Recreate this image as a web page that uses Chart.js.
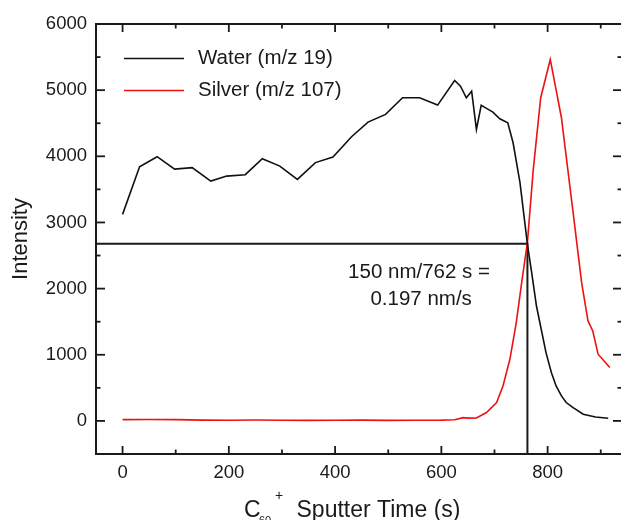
<!DOCTYPE html>
<html><head><meta charset="utf-8">
<script src="https://cdn.jsdelivr.net/npm/chart.js@4.4.1/dist/chart.umd.min.js"></script>
<style>
html,body{margin:0;padding:0;overflow:hidden;background:#fff;width:621px;height:520px}
#wrap{width:630px;height:520px}
</style></head>
<body><div id="wrap"><canvas id="c" width="630" height="520" style="width:630px;height:520px"></canvas></div>
<script>
// ---- data ----
const waterLabel = "Water (m/z 19)";
const waterTime = [0, 32, 65, 98, 131, 166, 196, 231, 263, 296, 329, 363, 396, 431, 462, 495, 527, 559, 593, 625, 636, 647, 657, 666, 675, 685, 697, 710, 725, 735, 748, 762, 770, 779, 797, 807, 816, 826, 835, 848, 867, 890, 914];
const waterIntensity = [3122, 3843, 3994, 3807, 3828, 3625, 3701, 3722, 3963, 3852, 3651, 3905, 3988, 4296, 4517, 4633, 4885, 4885, 4774, 5147, 5060, 4885, 4985, 4406, 4770, 4724, 4668, 4568, 4508, 4205, 3601, 2669, 2240, 1737, 1033, 731, 529, 378, 278, 200, 101, 60, 41];

const silverLabel = "Silver (m/z 107)";
const silverTime = [0, 50, 100, 150, 200, 250, 300, 350, 400, 450, 500, 550, 600, 625, 641, 650, 666, 685, 704, 716, 729, 741, 752, 762, 773, 787, 805, 826, 848, 864, 876, 885, 895, 917];
const silverIntensity = [20, 22, 20, 12, 10, 14, 10, 8, 10, 12, 8, 10, 12, 18, 50, 42, 45, 127, 278, 529, 932, 1486, 2140, 2700, 3802, 4885, 5464, 4583, 3148, 2091, 1511, 1360, 1008, 807];

// guide lines marking the interface at 762 s
const guideTime = [-50, 762, 762];
const guideIntensity = [2680, 2680, -500];

const annotationLines = ["150 nm/762 s =", "0.197 nm/s"];
const annotationTime = [558, 562];
const annotationIntensity = [2246, 1838];

// tick positions (all ticks) and which ones carry labels
const xTickValues = [0, 100, 200, 300, 400, 500, 600, 700, 800, 900];
const xLabelStep = 200;
const yTickValues = [-500, 0, 500, 1000, 1500, 2000, 2500, 3000, 3500, 4000, 4500, 5000, 5500, 6000];
const yLabelStep = 1000;

const FONT = "'Liberation Sans', Arial, Helvetica, sans-serif";
const INK = '#1a1a1a';
const toXY = (xs, ys) => xs.map((x, i) => ({x: x, y: ys[i]}));

const decor = {
  id: 'decor',
  afterDraw(chart) {
    const ctx = chart.ctx, a = chart.chartArea;
    const xs = chart.scales.x, ys = chart.scales.y;
    ctx.save();
    ctx.strokeStyle = INK;
    ctx.lineCap = 'butt';
    ctx.lineWidth = 2;
    ctx.strokeRect(a.left, a.top, a.right - a.left, a.bottom - a.top);
    ctx.lineWidth = 1.8;
    const seg = (x1, y1, x2, y2) => { ctx.beginPath(); ctx.moveTo(x1, y1); ctx.lineTo(x2, y2); ctx.stroke(); };
    xs.ticks.forEach(t => {
      const p = xs.getPixelForValue(t.value);
      if (p <= a.left + 1 || p >= a.right - 1) return;
      const L = (t.value % xLabelStep === 0) ? 8 : 4.5;
      seg(p, a.bottom, p, a.bottom - L);
      seg(p, a.top, p, a.top + L);
    });
    ys.ticks.forEach(t => {
      const p = ys.getPixelForValue(t.value);
      if (p <= a.top + 1 || p >= a.bottom - 1) return;
      const L = (t.value % yLabelStep === 0) ? 9 : 4.5;
      seg(a.left, p, a.left + L, p);
      seg(a.right, p, a.right - L, p);
    });
    const ds = chart.data.datasets.filter(d => d.label);
    ctx.font = "20.5px " + FONT;
    ctx.textBaseline = 'middle';
    ctx.textAlign = 'left';
    ds.forEach((d, i) => {
      const y = a.top + 34.5 + i * 32;
      ctx.strokeStyle = d.borderColor;
      ctx.lineWidth = 1.6;
      seg(a.left + 28, y, a.left + 88, y);
      ctx.fillStyle = INK;
      ctx.fillText(d.label, a.left + 102, y);
    });
    ctx.textAlign = 'center';
    ctx.fillStyle = INK;
    annotationLines.forEach((s, i) => {
      ctx.fillText(s, xs.getPixelForValue(annotationTime[i]), ys.getPixelForValue(annotationIntensity[i]));
    });
    ctx.textAlign = 'left';
    ctx.textBaseline = 'alphabetic';
    ctx.font = "23px " + FONT;
    ctx.fillText("C", 244, 517);
    ctx.font = "11px " + FONT;
    ctx.fillText("60", 259, 524);
    ctx.font = "14px " + FONT;
    ctx.fillText("+", 275, 500);
    ctx.font = "23px " + FONT;
    ctx.fillText("Sputter Time (s)", 296.5, 517);
    ctx.restore();
  }
};

new Chart(document.getElementById('c'), {
  type: 'line',
  data: {
    datasets: [
      {label: waterLabel, data: toXY(waterTime, waterIntensity), borderColor: '#111111', borderWidth: 1.6, pointRadius: 0, tension: 0, fill: false},
      {label: silverLabel, data: toXY(silverTime, silverIntensity), borderColor: '#ee1111', borderWidth: 1.6, pointRadius: 0, tension: 0, fill: false},
      {label: '', data: toXY(guideTime, guideIntensity), borderColor: INK, borderWidth: 2, pointRadius: 0, tension: 0, fill: false}
    ]
  },
  options: {
    responsive: false,
    animation: false,
    events: [],
    layout: {padding: {top: 24, right: 8, left: 0, bottom: 0}},
    plugins: {legend: {display: false}, tooltip: {enabled: false}},
    scales: {
      x: {
        type: 'linear', min: -50, max: 940,
        grid: {display: false, drawTicks: false},
        border: {display: false},
        afterBuildTicks: s => { s.ticks = xTickValues.map(v => ({value: v})); },
        ticks: {
          autoSkip: false, maxRotation: 0, minRotation: 0,
          padding: 8, color: INK, font: {family: FONT, size: 18.5},
          callback: v => (v % xLabelStep === 0 ? String(v) : '')
        },
        afterFit: s => { s.height = 66; }
      },
      y: {
        type: 'linear', min: -500, max: 6000,
        grid: {display: false, drawTicks: false},
        border: {display: false},
        title: {display: true, text: 'Intensity', color: INK, font: {family: FONT, size: 22}, padding: {top: 8, bottom: 0}},
        afterBuildTicks: s => { s.ticks = yTickValues.map(v => ({value: v})); },
        ticks: {
          autoSkip: false,
          padding: 9, color: INK, font: {family: FONT, size: 18.5},
          callback: v => (v % yLabelStep === 0 ? String(v) : '')
        },
        afterFit: s => { s.width = 96; }
      }
    }
  },
  plugins: [decor]
});
</script>
</body></html>
